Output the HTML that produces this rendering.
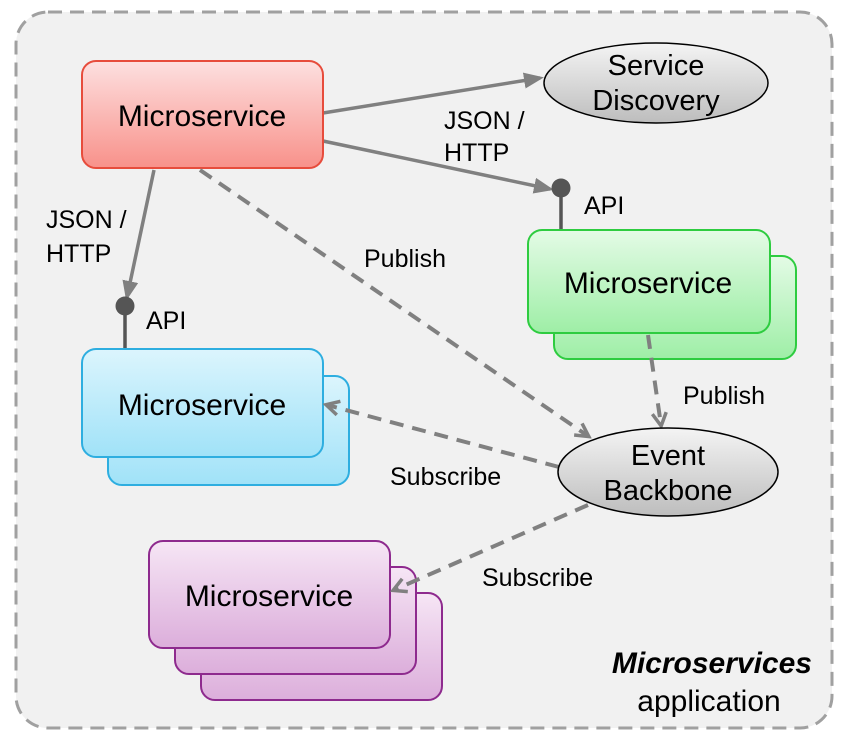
<!DOCTYPE html>
<html><head><meta charset="utf-8"><style>
html,body{margin:0;padding:0;background:#fff}
text{font-family:"Liberation Sans",Arial,sans-serif;fill:#000}
</style></head><body>
<svg width="844" height="738" viewBox="0 0 844 738" xmlns="http://www.w3.org/2000/svg">
<defs>
<linearGradient id="gr" x1="0" y1="0" x2="0" y2="1"><stop offset="0" stop-color="#fde0e0"/><stop offset="1" stop-color="#f8918a"/></linearGradient>
<linearGradient id="gg" x1="0" y1="0" x2="0" y2="1"><stop offset="0" stop-color="#e4fbe6"/><stop offset="1" stop-color="#9eeea6"/></linearGradient>
<linearGradient id="gb" x1="0" y1="0" x2="0" y2="1"><stop offset="0" stop-color="#dcf5fd"/><stop offset="1" stop-color="#a0e2f8"/></linearGradient>
<linearGradient id="gp" x1="0" y1="0" x2="0" y2="1"><stop offset="0" stop-color="#f6e6f5"/><stop offset="1" stop-color="#dcaedb"/></linearGradient>
<linearGradient id="ge" x1="0" y1="0" x2="0" y2="1"><stop offset="0" stop-color="#f4f4f4"/><stop offset="1" stop-color="#bdbdbd"/></linearGradient>
<marker id="ah" markerWidth="20" markerHeight="16" refX="16" refY="8" orient="auto" markerUnits="userSpaceOnUse" viewBox="0 0 20 16"><path d="M0,0 L20,8 L0,16 z" fill="#808080"/></marker>
<marker id="ao" markerWidth="18" markerHeight="18" refX="14" refY="9" orient="auto" markerUnits="userSpaceOnUse"><path d="M2,2 L15,9 L2,16" fill="none" stroke="#808080" stroke-width="3.5"/></marker>
</defs>
<rect x="16" y="12" width="816" height="716" rx="32" fill="#f1f1f1" stroke="#a0a0a0" stroke-width="3" stroke-dasharray="14,8"/>

<g stroke="#808080" stroke-width="3.5" fill="none">
<line x1="323" y1="113" x2="540" y2="78" marker-end="url(#ah)"/>
<line x1="323" y1="141" x2="550" y2="189" marker-end="url(#ah)"/>
<line x1="154" y1="170" x2="127" y2="297" marker-end="url(#ah)"/>
</g>
<g stroke="#555" stroke-width="3.5"><line x1="561" y1="188" x2="561" y2="232"/><line x1="125" y1="305" x2="125" y2="350"/></g>
<circle cx="561" cy="188" r="9.5" fill="#555"/>
<circle cx="125" cy="306" r="9.5" fill="#555"/>

<rect x="82" y="61" width="241" height="107" rx="14" fill="url(#gr)" stroke="#e74c3c" stroke-width="2"/>
<text x="202" y="126" font-size="30" text-anchor="middle">Microservice</text>

<ellipse cx="656" cy="83" rx="112" ry="40" fill="url(#ge)" stroke="#000" stroke-width="1.5"/>
<text x="656" y="75" font-size="29" text-anchor="middle">Service</text>
<text x="656" y="110" font-size="29" text-anchor="middle">Discovery</text>

<rect x="554" y="256" width="242" height="103" rx="14" fill="url(#gg)" stroke="#2ecc40" stroke-width="2"/>
<rect x="528" y="230" width="242" height="103" rx="14" fill="url(#gg)" stroke="#2ecc40" stroke-width="2"/>
<text x="648" y="293" font-size="30" text-anchor="middle">Microservice</text>

<rect x="108" y="376" width="241" height="109" rx="14" fill="url(#gb)" stroke="#2eaee0" stroke-width="2"/>
<rect x="82" y="349" width="241" height="108" rx="14" fill="url(#gb)" stroke="#2eaee0" stroke-width="2"/>
<text x="202" y="415" font-size="30" text-anchor="middle">Microservice</text>

<rect x="201" y="593" width="241" height="107" rx="14" fill="url(#gp)" stroke="#8e2a8e" stroke-width="2"/>
<rect x="175" y="567" width="241" height="107" rx="14" fill="url(#gp)" stroke="#8e2a8e" stroke-width="2"/>
<rect x="149" y="541" width="241" height="107" rx="14" fill="url(#gp)" stroke="#8e2a8e" stroke-width="2"/>
<text x="269" y="606" font-size="30" text-anchor="middle">Microservice</text>

<g stroke="#808080" stroke-width="4" fill="none" stroke-dasharray="14,9">
<line x1="200" y1="170" x2="588" y2="436" marker-end="url(#ao)"/>
<line x1="648" y1="335" x2="661" y2="425" marker-end="url(#ao)"/>
<line x1="559" y1="467" x2="327" y2="405" marker-end="url(#ao)"/>
<line x1="588" y1="505" x2="394" y2="590" marker-end="url(#ao)"/>
</g>

<ellipse cx="668" cy="472" rx="110" ry="44" fill="url(#ge)" stroke="#000" stroke-width="1.5"/>
<text x="668" y="465" font-size="29" text-anchor="middle">Event</text>
<text x="668" y="500" font-size="29" text-anchor="middle">Backbone</text>

<g font-size="25">
<text x="444" y="129">JSON /</text>
<text x="444" y="161">HTTP</text>
<text x="46" y="228">JSON /</text>
<text x="46" y="262">HTTP</text>
<text x="584" y="214">API</text>
<text x="146" y="329">API</text>
<text x="364" y="267">Publish</text>
<text x="683" y="404">Publish</text>
<text x="390" y="485">Subscribe</text>
<text x="482" y="586">Subscribe</text>
</g>
<text x="812" y="673" font-size="30" font-weight="bold" font-style="italic" text-anchor="end">Microservices</text>
<text x="709" y="711" font-size="30" text-anchor="middle">application</text>
</svg>
</body></html>
